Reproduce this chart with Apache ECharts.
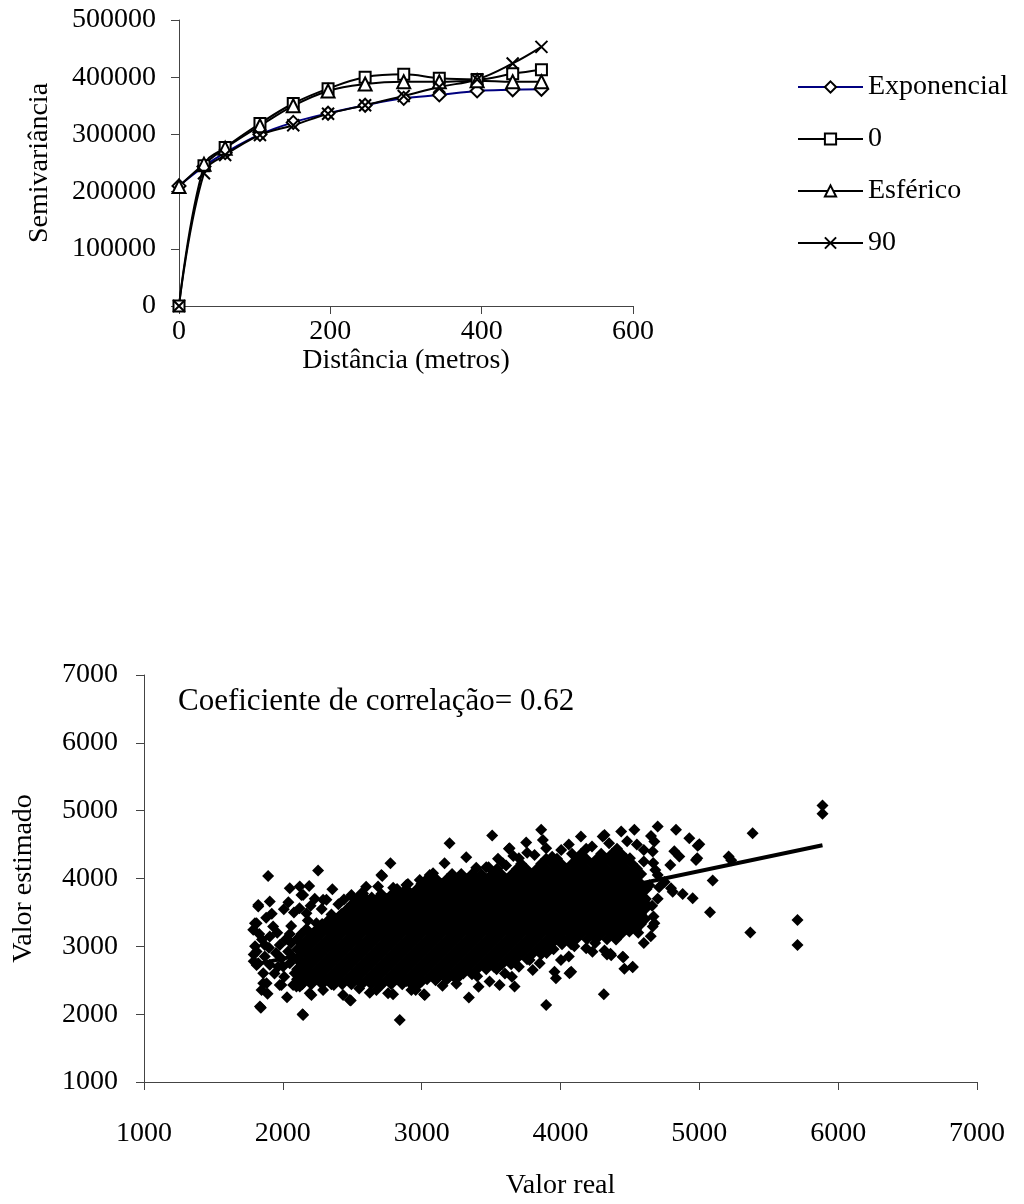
<!DOCTYPE html>
<html>
<head>
<meta charset="utf-8">
<script src="https://cdn.jsdelivr.net/npm/echarts@6/dist/echarts.min.js"></script>
<style>
  html, body { margin: 0; padding: 0; background: #fff; }
  #chart { width: 1024px; height: 1204px; }
</style>
</head>
<body>
<div id="chart"></div>
<script>
// ---- Semivariogram (distance in metres) ----
const distancias = [0, 33, 61, 107, 151, 197, 246, 297, 344, 394, 441, 479];
const exponencial = [210000, 244000, 268000, 300000, 321000, 337000, 351000, 363000, 369000, 376000, 378000, 379000];
const direcao0 = [0, 245000, 277000, 319000, 354000, 380000, 400000, 405000, 398000, 396000, 406000, 413000];
const esferico = [209000, 248000, 276000, 315000, 350000, 376000, 388000, 392000, 392000, 394000, 392000, 392000];
const direcao90 = [0, 232000, 264000, 299000, 316000, 336000, 351000, 367000, 383000, 396000, 424000, 453000];
const semivarTicks = { xMin: 0, xMax: 600, xStep: 200, yMin: 0, yMax: 500000, yStep: 100000 };

// ---- Cross validation: real vs estimated ----
// Dense centre of the cloud, band by band: [estimated value, [real values...]]
const denseBands = [
  [2440, [2140, 2205, 2283, 2350, 2428, 2494, 2570, 2637, 2715, 2781, 2860, 2925]],
  [2514, [2102, 2175, 2241, 2318, 2386, 2463, 2530, 2607, 2673, 2751, 2818, 2895, 2961, 3039, 3105, 3183, 3250]],
  [2588, [2134, 2211, 2277, 2355, 2421, 2499, 2565, 2643, 2709, 2787, 2853, 2931, 2997, 3075, 3141, 3219, 3285, 3362]],
  [2662, [2103, 2170, 2247, 2313, 2391, 2457, 2535, 2601, 2679, 2745, 2823, 2889, 2967, 3033, 3111, 3177, 3255, 3321, 3399, 3465, 3540]],
  [2736, [2138, 2205, 2283, 2349, 2427, 2493, 2571, 2637, 2715, 2781, 2859, 2925, 3003, 3069, 3147, 3213, 3291, 3357, 3435, 3501, 3579, 3645]],
  [2810, [2101, 2175, 2241, 2319, 2385, 2463, 2529, 2607, 2673, 2751, 2817, 2895, 2961, 3039, 3105, 3183, 3249, 3327, 3393, 3471, 3537, 3615, 3681, 3759]],
  [2884, [2133, 2211, 2277, 2355, 2421, 2499, 2565, 2643, 2709, 2787, 2853, 2931, 2997, 3075, 3141, 3219, 3285, 3363, 3429, 3507, 3573, 3651, 3717, 3795, 3861]],
  [2958, [2104, 2169, 2247, 2313, 2391, 2457, 2535, 2601, 2679, 2745, 2823, 2889, 2967, 3033, 3111, 3177, 3255, 3321, 3399, 3465, 3543, 3609, 3687, 3753, 3831, 3897, 3950]],
  [3032, [2139, 2205, 2283, 2349, 2427, 2493, 2571, 2637, 2715, 2781, 2859, 2925, 3003, 3069, 3147, 3213, 3291, 3357, 3435, 3501, 3579, 3645, 3723, 3789, 3867, 3933, 4011, 4077]],
  [3106, [2101, 2175, 2241, 2319, 2385, 2463, 2529, 2607, 2673, 2751, 2817, 2895, 2961, 3039, 3105, 3183, 3249, 3327, 3393, 3471, 3537, 3615, 3681, 3759, 3825, 3903, 3969, 4047, 4113, 4191, 4257, 4335]],
  [3180, [2133, 2211, 2277, 2355, 2421, 2499, 2565, 2643, 2709, 2787, 2853, 2931, 2997, 3075, 3141, 3219, 3285, 3363, 3429, 3507, 3573, 3651, 3717, 3795, 3861, 3939, 4005, 4083, 4149, 4227, 4293, 4371, 4437]],
  [3254, [2170, 2247, 2313, 2391, 2457, 2535, 2601, 2679, 2745, 2823, 2889, 2967, 3033, 3111, 3177, 3255, 3321, 3399, 3465, 3543, 3609, 3687, 3753, 3831, 3897, 3975, 4041, 4119, 4185, 4263, 4329, 4407, 4473, 4545]],
  [3328, [2283, 2349, 2427, 2493, 2571, 2637, 2715, 2781, 2859, 2925, 3003, 3069, 3147, 3213, 3291, 3357, 3435, 3501, 3579, 3645, 3723, 3789, 3867, 3933, 4011, 4077, 4155, 4221, 4299, 4365, 4443, 4509, 4580]],
  [3402, [2385, 2463, 2529, 2607, 2673, 2751, 2817, 2895, 2961, 3039, 3105, 3183, 3249, 3327, 3393, 3471, 3537, 3615, 3681, 3759, 3825, 3903, 3969, 4047, 4113, 4191, 4257, 4335, 4401, 4479, 4545, 4610]],
  [3476, [2421, 2499, 2565, 2643, 2709, 2787, 2853, 2931, 2997, 3075, 3141, 3219, 3285, 3363, 3429, 3507, 3573, 3651, 3717, 3795, 3861, 3939, 4005, 4083, 4149, 4227, 4293, 4371, 4437, 4515, 4581]],
  [3550, [2463, 2529, 2607, 2673, 2751, 2817, 2895, 2961, 3039, 3105, 3183, 3249, 3327, 3393, 3471, 3537, 3615, 3681, 3759, 3825, 3903, 3969, 4047, 4113, 4191, 4257, 4335, 4401, 4479, 4545, 4610]],
  [3624, [2499, 2565, 2643, 2709, 2787, 2853, 2931, 2997, 3075, 3141, 3219, 3285, 3363, 3429, 3507, 3573, 3651, 3717, 3795, 3861, 3939, 4005, 4083, 4149, 4227, 4293, 4371, 4437, 4515, 4581]],
  [3698, [2535, 2601, 2679, 2745, 2823, 2889, 2967, 3033, 3111, 3177, 3255, 3321, 3399, 3465, 3543, 3609, 3687, 3753, 3831, 3897, 3975, 4041, 4119, 4185, 4263, 4329, 4407, 4473, 4550, 4615]],
  [3772, [2709, 2787, 2853, 2931, 2997, 3075, 3141, 3219, 3285, 3363, 3429, 3507, 3573, 3651, 3717, 3795, 3861, 3939, 4005, 4083, 4149, 4227, 4293, 4371, 4437, 4515, 4581]],
  [3846, [2823, 2889, 2967, 3033, 3111, 3177, 3255, 3321, 3399, 3465, 3543, 3609, 3687, 3753, 3831, 3897, 3975, 4041, 4119, 4185, 4263, 4329, 4407, 4473, 4550, 4620]],
  [3920, [2997, 3075, 3141, 3219, 3285, 3363, 3429, 3507, 3573, 3651, 3717, 3795, 3861, 3939, 4005, 4083, 4149, 4227, 4293, 4371, 4437, 4515, 4581]],
  [3994, [3039, 3105, 3183, 3249, 3327, 3393, 3471, 3537, 3615, 3681, 3759, 3825, 3903, 3969, 4047, 4113, 4191, 4257, 4335, 4401, 4479, 4545]],
  [4068, [3219, 3285, 3363, 3429, 3507, 3573, 3651, 3717, 3795, 3861, 3939, 4005, 4083, 4149, 4227, 4293, 4371, 4437, 4515, 4581]],
  [4142, [3543, 3687, 3753, 3831, 3897, 3975, 4041, 4119, 4185, 4263, 4329, 4407, 4473, 4551]],
  [4216, [3717, 3861, 3939, 4005, 4083, 4149, 4227, 4293, 4371, 4437, 4515]],
  [4290, [3897, 3975, 4119, 4185, 4263, 4329, 4407, 4473]],
  [4364, [4083, 4149, 4293, 4371, 4437]],
  [4438, [4185, 4407]]
];

// Scattered samples around the centre: [real, estimated]
const scatteredPoints = [
  [1894,4038],[1842,2096],[2142,1999],[1811,2726],[1800,3000],[1811,3341],[1823,3586],[1906,3660],[2007,3548],[2050,3857],
  [2122,3881],[2146,3758],[1990,2431],[2002,2701],[2074,2431],[2122,2407],[1847,2357],[1883,2456],[1823,3610],[1799,3341],
  [1787,3243],[1930,3292],[1906,3145],[1811,2923],[1978,3020],[2038,2923],[1823,2751],[1906,2727],[1859,2603],[1966,2700],
  [2050,2751],[2086,2603],[1859,2456],[1978,2431],[2098,2407],[1835,2112],[2146,1988],[1850,3100],[1870,2850],[1950,2900],
  [1880,3420],[1960,3200],[2020,3100],[2060,3300],[1940,2600],[2010,2550],[2060,3050],[1790,2880],[1830,3180],[1920,3480],
  [2080,3500],[2040,3650],[2070,2850],[1890,2300],[2030,2250],[1900,2980],[1990,2820],[2050,3180],[1870,3020],[1790,2780],
  [2254,4117],[2357,3842],[2290,3685],[2716,4038],[2566,3783],[2495,3734],[2901,3920],[2986,3979],[2775,4225],[2710,4053],
  [2190,3890],[2134,3758],[2314,3685],[2494,3758],[2578,3780],[2686,3881],[2795,3865],[2890,3906],[2170,3488],[2242,3341],
  [2200,3600],[2280,3550],[2350,3470],[2400,3620],[2330,3390],[2180,3380],[2640,3720],[2440,3690],[2230,3700],[2120,3560],
  [2600,3880],[2840,3800],
  [3082,4078],[3165,4225],[3321,4314],[3393,4160],[3465,4166],[3585,4225],[3201,4520],[3508,4633],[3628,4437],[3753,4530],
  [3633,4446],[3861,4717],[3873,4569],[3897,4447],[3813,4348],[4147,4618],[4317,4643],[4437,4692],[4532,4717],[4700,4767],
  [4832,4717],[4928,4594],[5000,4505],[4985,4300],[4664,4399],[4676,4545],[4668,4230],[3058,4053],[3482,4166],[3608,4190],
  [3700,4300],[3940,4320],[4005,4420],[4060,4500],[4304,4618],[4227,4470],[4652,4628],[4988,4481],[4976,4274],[4856,4323],
  [4820,4400],[4683,4127],[4791,4200],[4796,3857],[4880,3773],[4952,3709],[4808,3806],[4550,4500],[4480,4550],[4600,4420],
  [4350,4520],[4500,4300],[4600,4250],[4700,4050],[4750,3950],[4640,3900],[4700,3700],[4660,3600],[3760,4380],[3660,4330],
  [3550,4290],
  [2842,1914],[3340,2245],[3017,2295],[2489,2200],[2626,2317],[2794,2294],[2957,2357],[2890,2490],[2206,2283],[2266,2530],
  [2367,2431],[2434,2283],[2194,2308],[2290,2356],[2482,2210],[2674,2356],[2758,2308],[2926,2356],[2962,2407],[3561,2431],
  [3489,2480],[3669,2407],[3897,2136],[4312,2294],[3022,2283],[3410,2405],[3967,2530],[4077,2627],[3777,2800],[4017,3094],
  [4185,2972],[4317,2940],[4360,2890],[4520,2692],[4460,2670],[4453,2840],[4335,2880],[4230,2920],[4065,2603],[3957,2627],
  [4003,2800],[4060,2850],[3100,2500],[3200,2550],[3300,2600],[3150,2420],[3600,2600],[3700,2700],[3850,2750],[3900,2900],
  [4100,3000],[4250,3050],[3650,2550],[3800,2650],[3400,2560],[3520,2700],[3000,2480],[2550,2380],[2700,2420],[3250,2450],
  [5887,5075],[5887,4953],[5384,4668],[5211,4323],[5230,4270],[5707,3389],[5707,3020],[5367,3203],[5077,3503],[5096,3969],
  [4676,3341],[4670,3440],[4555,3580],[4620,3620],[4710,3870],[4664,3292],[4496,3217],[4448,2848],[4520,2700],[4365,2870],
  [4400,3100],[4560,3200],[4650,3150],[4600,3050]
];

// Fitted trend line end points [real, estimated]
const linhaTendencia = [[1787, 2727], [5887, 4490]];
const coeficiente = '0.62';
const validacaoTicks = { min: 1000, max: 7000, step: 1000 };

const pontos = [];
denseBands.forEach(([est, reais]) => reais.forEach(r => pontos.push([r, est])));
scatteredPoints.forEach(p => pontos.push(p));

const FONT = 'Liberation Serif';
const axisColor = '#444';
const labelStyle = { color: '#000', fontFamily: FONT, fontSize: 28 };
const plain = v => String(v);

function axisBase() {
  return {
    type: 'value',
    axisLine: { show: true, onZero: false, lineStyle: { color: axisColor, width: 1 } },
    axisTick: { show: true, inside: false, length: 8, lineStyle: { color: axisColor } },
    splitLine: { show: false },
    nameLocation: 'middle',
    nameTextStyle: { color: '#000', fontFamily: FONT, fontSize: 28 }
  };
}

const hollow = { color: '#fff', borderColor: '#000', borderWidth: 2, opacity: 1 };
function semivarSeries(name, values, symbol, size, lineColor, itemStyle) {
  return {
    name, type: 'line', xAxisIndex: 0, yAxisIndex: 0,
    data: distancias.map((d, i) => [d, values[i]]),
    smooth: 0.4,
    symbol, symbolSize: size, showAllSymbol: true,
    lineStyle: { color: lineColor, width: 2 },
    itemStyle: itemStyle,
    emphasis: { disabled: true }
  };
}

const option = {
  animation: false,
  backgroundColor: '#fff',
  textStyle: { fontFamily: FONT },
  grid: [
    { left: 179, top: 20, width: 454, height: 286, containLabel: false, outerBoundsMode: 'none' },
    { left: 144, top: 675, width: 833, height: 407, containLabel: false, outerBoundsMode: 'none' }
  ],
  legend: {
    orient: 'vertical', left: 792, top: 68,
    itemWidth: 65, itemHeight: 14, itemGap: 24,
    textStyle: { color: '#000', fontFamily: FONT, fontSize: 28 },
    data: ['Exponencial', '0', 'Esférico', '90'],
    selectedMode: false
  },
  xAxis: [
    Object.assign(axisBase(), {
      gridIndex: 0, min: semivarTicks.xMin, max: semivarTicks.xMax, interval: semivarTicks.xStep,
      name: 'Distância (metros)', nameGap: 37,
      axisLabel: Object.assign({ margin: 12, formatter: plain }, labelStyle)
    }),
    Object.assign(axisBase(), {
      gridIndex: 1, min: validacaoTicks.min, max: validacaoTicks.max, interval: validacaoTicks.step,
      name: 'Valor real', nameGap: 90,
      axisLabel: Object.assign({ margin: 38, formatter: plain }, labelStyle)
    })
  ],
  yAxis: [
    Object.assign(axisBase(), {
      gridIndex: 0, min: semivarTicks.yMin, max: semivarTicks.yMax, interval: semivarTicks.yStep,
      name: 'Semivariância', nameGap: 125,
      axisLabel: Object.assign({ margin: 23, formatter: plain }, labelStyle)
    }),
    Object.assign(axisBase(), {
      gridIndex: 1, min: validacaoTicks.min, max: validacaoTicks.max, interval: validacaoTicks.step,
      name: 'Valor estimado', nameGap: 106,
      axisLabel: Object.assign({ margin: 26, formatter: plain }, labelStyle)
    })
  ],
  graphic: [{
    type: 'text', left: 178, top: 686,
    style: { text: 'Coeficiente de correlação= ' + coeficiente, fill: '#000', font: '31px "Liberation Serif"' }
  }],
  series: [
    semivarSeries('Exponencial', exponencial, 'diamond', 13, '#000080', hollow),
    semivarSeries('0', direcao0, 'rect', 11, '#000', hollow),
    semivarSeries('Esférico', esferico, 'triangle', 13, '#000', hollow),
    semivarSeries('90', direcao90, 'path://M0 0L12 12M12 0L0 12', 12, '#000',
      { color: '#000', borderColor: '#000', borderWidth: 2, opacity: 1 }),
    {
      name: 'pontos', type: 'scatter', xAxisIndex: 1, yAxisIndex: 1,
      data: pontos, symbol: 'diamond', symbolSize: 12,
      itemStyle: { color: '#000', opacity: 1 }, emphasis: { disabled: true }
    },
    {
      name: 'tendencia', type: 'line', xAxisIndex: 1, yAxisIndex: 1,
      data: linhaTendencia, symbol: 'none', z: 5,
      lineStyle: { color: '#000', width: 4 }, emphasis: { disabled: true }
    }
  ]
};

const chart = echarts.init(document.getElementById('chart'), null, { renderer: 'canvas' });
chart.setOption(option);
</script>
</body>
</html>
